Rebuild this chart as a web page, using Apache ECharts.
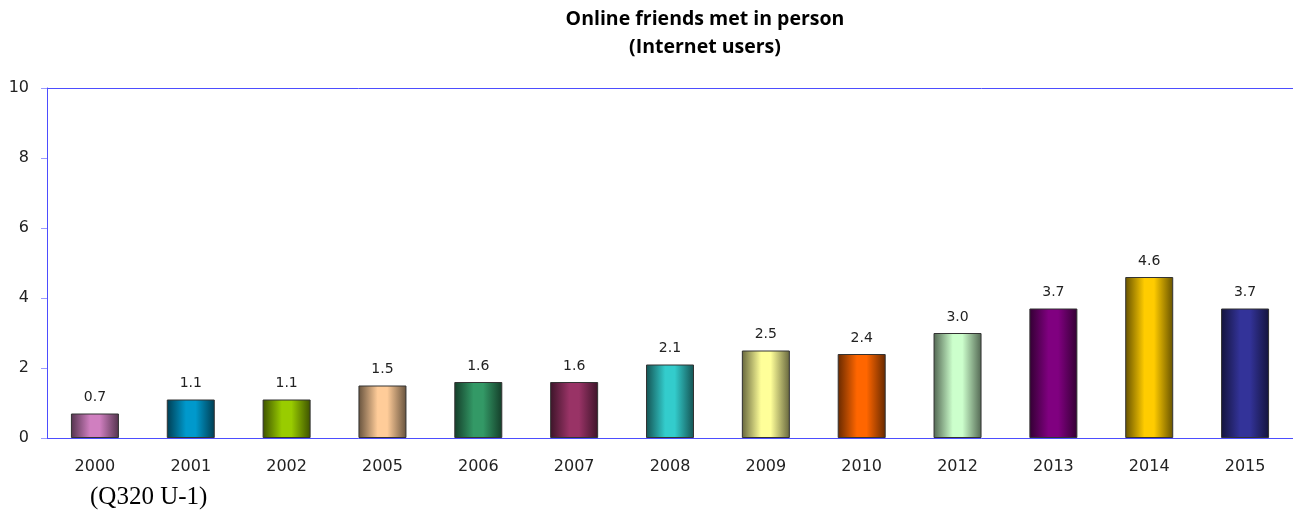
<!DOCTYPE html>
<html><head><meta charset="utf-8">
<script src="https://cdn.jsdelivr.net/npm/echarts@6/dist/echarts.min.js"></script>
<style>html,body{margin:0;padding:0;background:#fff;overflow:hidden}#c{width:1293px;height:512px}</style>
</head><body><div id="c"></div>
<script>
const categories = ['2000','2001','2002','2005','2006','2007','2008','2009','2010','2012','2013','2014','2015'];
const values = [0.7,1.1,1.1,1.5,1.6,1.6,2.1,2.5,2.4,3.0,3.7,4.6,3.7];
const barColors = ['#D07FC0','#0099CC','#99CC00','#FFCC99','#339966','#993366','#33CCCC','#FFFF99','#FF6600','#CCFFCC','#800080','#FFCC00','#333399'];
const yTicks = [0,2,4,6,8,10];

function shade(hex, f){
  const n = parseInt(hex.slice(1),16);
  const r = Math.round(((n>>16)&255)*f), g = Math.round(((n>>8)&255)*f), b = Math.round((n&255)*f);
  return 'rgb('+r+','+g+','+b+')';
}
function grad(c){
  return {type:'linear',x:0,y:0,x2:1,y2:0,colorStops:[
    {offset:0,color:shade(c,0.4)},{offset:0.4,color:c},{offset:0.6,color:c},{offset:1,color:shade(c,0.4)}]};
}
const chart = echarts.init(document.getElementById('c'));
chart.setOption({
  animation:false,
  title:{text:'Online friends met in person\n(Internet users)',left:700,textAlign:'center',top:0,
    textStyle:{fontFamily:'Open Sans',fontWeight:'bold',fontSize:19.5,lineHeight:28,color:'#000'}},
  grid:{left:47,right:-2,top:88,bottom:74},
  xAxis:[{type:'category',data:categories,
    axisLine:{lineStyle:{color:'#4d4dff'}},axisTick:{show:false},
    axisLabel:{margin:21,fontFamily:'DejaVu Sans',fontSize:16,color:'#222'}},
    {type:'category',data:categories,position:'top',
    axisLine:{show:true,lineStyle:{color:'#4d4dff'}},axisTick:{show:false},axisLabel:{show:false}}],
  yAxis:{type:'value',min:yTicks[0],max:yTicks[yTicks.length-1],interval:2,
    splitLine:{show:false},
    axisLine:{show:true,lineStyle:{color:'#4d4dff'}},
    axisTick:{show:true,length:6,lineStyle:{color:'#9a9aff'}},
    axisLabel:{margin:18,fontFamily:'DejaVu Sans',fontSize:16,color:'#222'}},
  graphic:[{type:'text',left:90,top:485,style:{text:'(Q320 U-1)',fontFamily:'Liberation Serif',fontSize:25,fill:'#000'}}],
  series:[{type:'bar',barWidth:48,
    data:values.map((v,i)=>({value:v,itemStyle:{color:grad(barColors[i])}})),
    itemStyle:{borderColor:'#333',borderWidth:1},
    label:{show:true,position:'top',distance:9,fontFamily:'DejaVu Sans',fontSize:14,color:'#222',
      formatter:p=>p.value.toFixed(1)}}]
});
</script></body></html>
